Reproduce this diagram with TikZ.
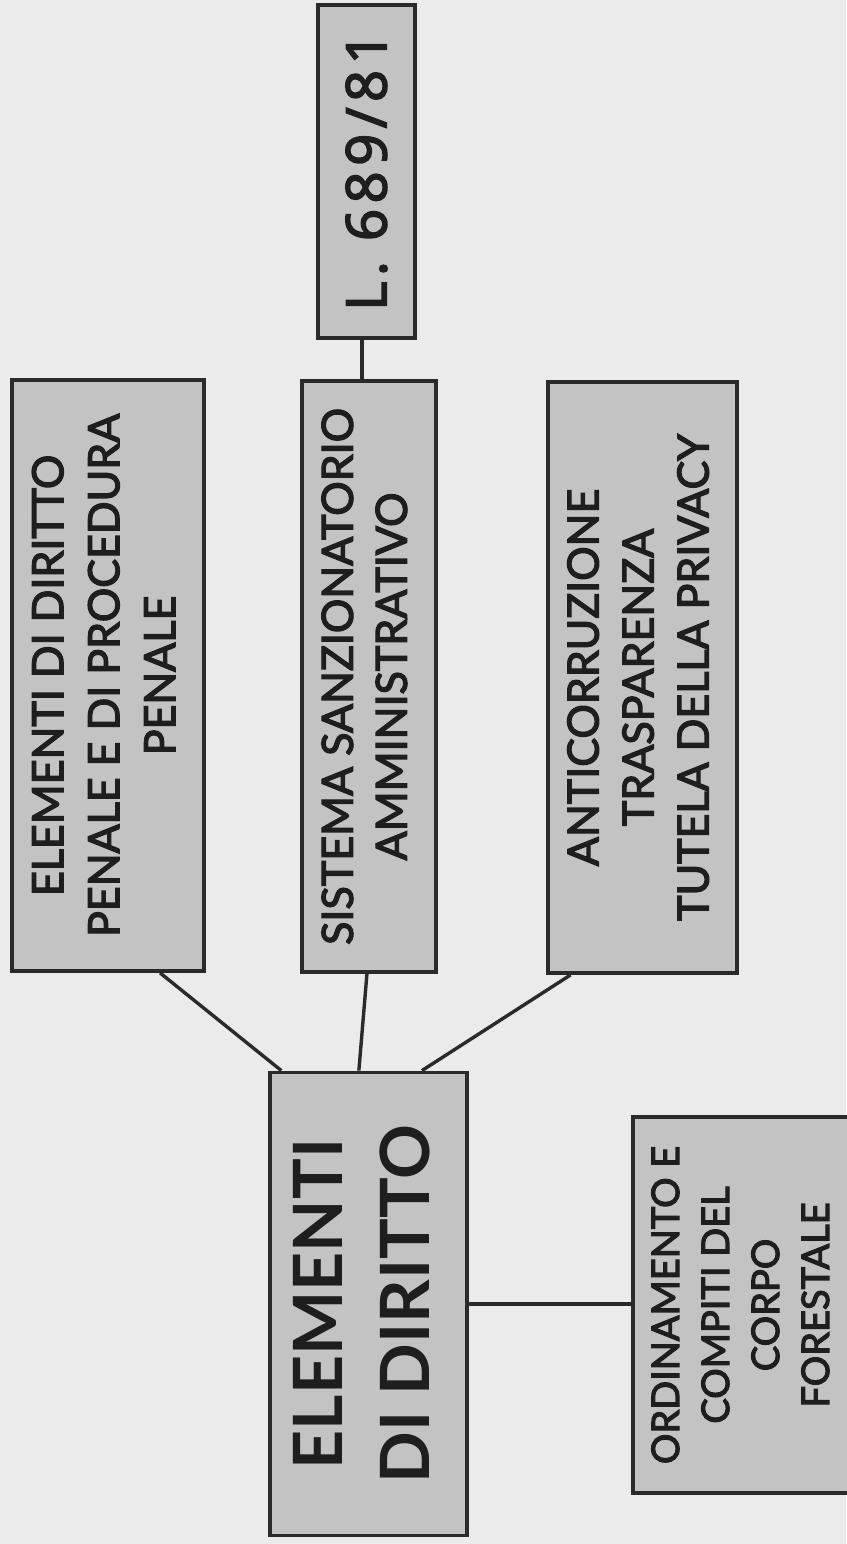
\documentclass[tikz,border=0pt]{standalone}
\usepackage{fontspec}
\setmainfont{Lato}
\newfontfamily\boxfont{Lato}[FakeBold=3]
\newfontfamily\lawfont{Open Sans}[FakeBold=3,LetterSpace=10]
\usetikzlibrary{calc}
\definecolor{bg}{HTML}{EBEBEB}
\definecolor{boxfill}{HTML}{C3C3C3}
\definecolor{edge}{HTML}{2A2A2A}
\definecolor{ink}{HTML}{1E1E1E}
\newcommand{\vtext}[3]{\rotatebox{90}{\fontsize{#1}{#2}\selectfont\begin{tabular}{@{}c@{}}#3\end{tabular}}}
\begin{document}
\begin{tikzpicture}[x=1pt,y=-1pt,
  box/.style={draw=edge, line width=3.8pt, fill=boxfill, inner sep=0pt, text=ink},
  link/.style={draw=edge, line width=3.4pt}]
\fill[bg] (0,0) rectangle (846,1544);
\useasboundingbox (0,0) rectangle (846,1544);
\node[box, minimum width=97pt, minimum height=333pt] (law) at (366.5,171.5)
  {\rotatebox{90}{\lawfont\fontsize{56}{60}\selectfont L.\ 689/81}};
\node[box, minimum width=192pt, minimum height=591pt] (b1) at (108,675.5)
  {\boxfont\vtext{43}{56}{ELEMENTI DI DIRITTO\\PENALE E DI PROCEDURA\\PENALE}};
\node[box, minimum width=134pt, minimum height=591pt] (b2) at (369,676.5)
  {\boxfont\vtext{43}{54}{SISTEMA SANZIONATORIO\\AMMINISTRATIVO}};
\node[box, minimum width=189pt, minimum height=591pt] (b3) at (642.5,677.5)
  {\boxfont\vtext{43}{55}{ANTICORRUZIONE\\TRASPARENZA\\TUTELA DELLA PRIVACY}};
\node[box, minimum width=197pt, minimum height=463pt] (c) at (368.5,1304)
  {\vtext{68}{87}{\bfseries ELEMENTI\\\bfseries DI DIRITTO}};
\node[box, minimum width=222pt, minimum height=376pt] (o) at (744,1305)
  {\boxfont\vtext{38}{50}{ORDINAMENTO E\\COMPITI DEL\\CORPO\\FORESTALE}};
\draw[link] ($(law.south west)!0.454!(law.south east)$) coordinate (lawb) -- (lawb |- b2.north);
\draw[link] ($(b1.south west)!0.766!(b1.south east)$) -- ($(c.north west)!0.066!(c.north east)$);
\draw[link] ($(b2.south west)!0.485!(b2.south east)$) -- ($(c.north west)!0.452!(c.north east)$);
\draw[link] ($(b3.south west)!0.127!(b3.south east)$) -- ($(c.north west)!0.766!(c.north east)$);
\draw[link] (c.east) -- (c.east -| o.west);
\end{tikzpicture}
\end{document}
